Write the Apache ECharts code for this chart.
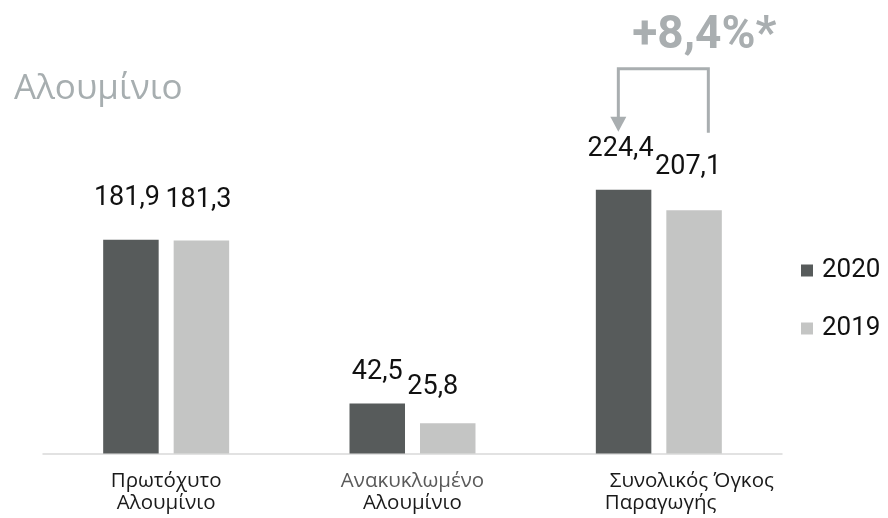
<!DOCTYPE html>
<html>
<head>
<meta charset="utf-8">
<script src="https://cdn.jsdelivr.net/npm/echarts@6/dist/echarts.min.js"></script>
<style>
  html, body { margin: 0; padding: 0; background: #ffffff; }
  #chart { width: 888px; height: 518px; }
</style>
</head>
<body>
<div id="chart"></div>
<script>
// Aluminium production, thousand tonnes
const titleText = 'Αλουμίνιο';
const categories = ['Πρωτόχυτο\nΑλουμίνιο', 'Ανακυκλωμένο\nΑλουμίνιο', 'Συνολικός Όγκος\nΠαραγωγής'];
const seriesNames = ['2020', '2019'];
const values2020 = [181.9, 42.5, 224.4];
const values2019 = [181.3, 25.8, 207.1];
const changeText = '+8,4%*';

// label placement tweaks (pixels): gap above the bar, horizontal nudge
const labelGap2020 = [28, 18, 27];
const labelGap2019 = [27, 22, 29];
const labelShift2020 = [-4, 0, -3];
const labelShift2019 = [-3, -15, -6];

const DARK = '#575b5b';
const LIGHT = '#c4c5c4';
const ACCENT = '#a9aeb0';

const fmt = v => v.toFixed(1).replace('.', ',');

function barData(values, gaps, shifts) {
  return values.map((v, i) => ({
    value: v,
    label: { distance: gaps[i], offset: [shifts[i], 0] }
  }));
}

// category labels: the first two are centred, the total is left aligned
function categoryLabel(value, idx) {
  const lines = value.split('\n');
  if (idx === 1) return '{g|' + lines[0] + '}\n{k|' + lines[1] + '}';
  if (idx === 2) return '{l1|' + lines[0] + '}\n{l2|' + lines[1] + '}';
  return '{k|' + lines[0] + '}\n{k|' + lines[1] + '}';
}

const catFont = { fontFamily: 'Open Sans', fontSize: 20.5, lineHeight: 22 };

const chart = echarts.init(document.getElementById('chart'), null, { renderer: 'canvas' });

const option = {
  animation: false,
  backgroundColor: '#ffffff',
  title: {
    text: titleText,
    left: 9,
    top: 67,
    padding: 5,
    textStyle: { fontFamily: 'Open Sans', fontSize: 35, fontWeight: 'normal', color: '#a7aeb0' }
  },
  legend: {
    orient: 'vertical',
    left: 801,
    top: 255.5,
    padding: 0,
    icon: 'rect',
    itemWidth: 12,
    itemHeight: 12,
    itemGap: 28,
    data: seriesNames,
    textStyle: { fontFamily: 'Roboto', fontSize: 26, color: '#111111', lineHeight: 30, padding: [0, 0, 0, 4] }
  },
  grid: { left: 43, right: 106, top: 101, bottom: 64.5, containLabel: false },
  xAxis: {
    type: 'category',
    data: categories,
    axisLine: { show: true, lineStyle: { color: '#d9d9d9', width: 1.5 } },
    axisTick: { show: false },
    axisLabel: {
      margin: 17,
      interval: 0,
      formatter: categoryLabel,
      rich: {
        k: Object.assign({ color: '#1a1a1a' }, catFont),
        g: Object.assign({ color: '#5a5a5a' }, catFont),
        l1: Object.assign({ color: '#1a1a1a', align: 'left', padding: [0, 0, 0, 66] }, catFont),
        l2: Object.assign({ color: '#1a1a1a', align: 'left', padding: [0, 0, 0, 61] }, catFont)
      }
    }
  },
  yAxis: {
    type: 'value',
    min: 0,
    max: 300,
    show: false,
    splitLine: { show: false }
  },
  series: [
    {
      name: seriesNames[0],
      type: 'bar',
      barWidth: 55.5,
      barGap: '27%',
      itemStyle: { color: DARK },
      label: {
        show: true, position: 'top', formatter: p => fmt(p.value),
        fontFamily: 'Roboto', fontSize: 27, color: '#111111'
      },
      data: barData(values2020, labelGap2020, labelShift2020)
    },
    {
      name: seriesNames[1],
      type: 'bar',
      barWidth: 55.5,
      barGap: '27%',
      itemStyle: { color: LIGHT },
      label: {
        show: true, position: 'top', formatter: p => fmt(p.value),
        fontFamily: 'Roboto', fontSize: 27, color: '#111111'
      },
      data: barData(values2019, labelGap2019, labelShift2019)
    }
  ]
};

chart.setOption(option);

// bracket with arrow showing the change of the total between the two years
const cx = chart.convertToPixel({ xAxisIndex: 0 }, categories[2]);
const yTop2020 = chart.convertToPixel({ yAxisIndex: 0 }, values2020[2]);
const xl = cx - 40.5;
const xr = cx + 49.5;
const yLine = yTop2020 - 121;
const yTip = yTop2020 - 58;
const yRight = yTop2020 - 57;

chart.setOption({
  graphic: [
    {
      type: 'polyline',
      shape: { points: [[xl, yTip - 14], [xl, yLine], [xr, yLine], [xr, yRight]] },
      style: { stroke: ACCENT, lineWidth: 3, fill: null }
    },
    {
      type: 'polygon',
      shape: { points: [[xl - 8, yTip - 15], [xl + 8, yTip - 15], [xl, yTip]] },
      style: { fill: ACCENT }
    },
    {
      type: 'text',
      x: xl + 86,
      y: yLine - 9,
      style: {
        text: changeText,
        fontFamily: 'Roboto',
        fontWeight: 'bold',
        fontSize: 46,
        fill: ACCENT,
        align: 'center',
        verticalAlign: 'bottom'
      }
    }
  ]
});
</script>
</body>
</html>
